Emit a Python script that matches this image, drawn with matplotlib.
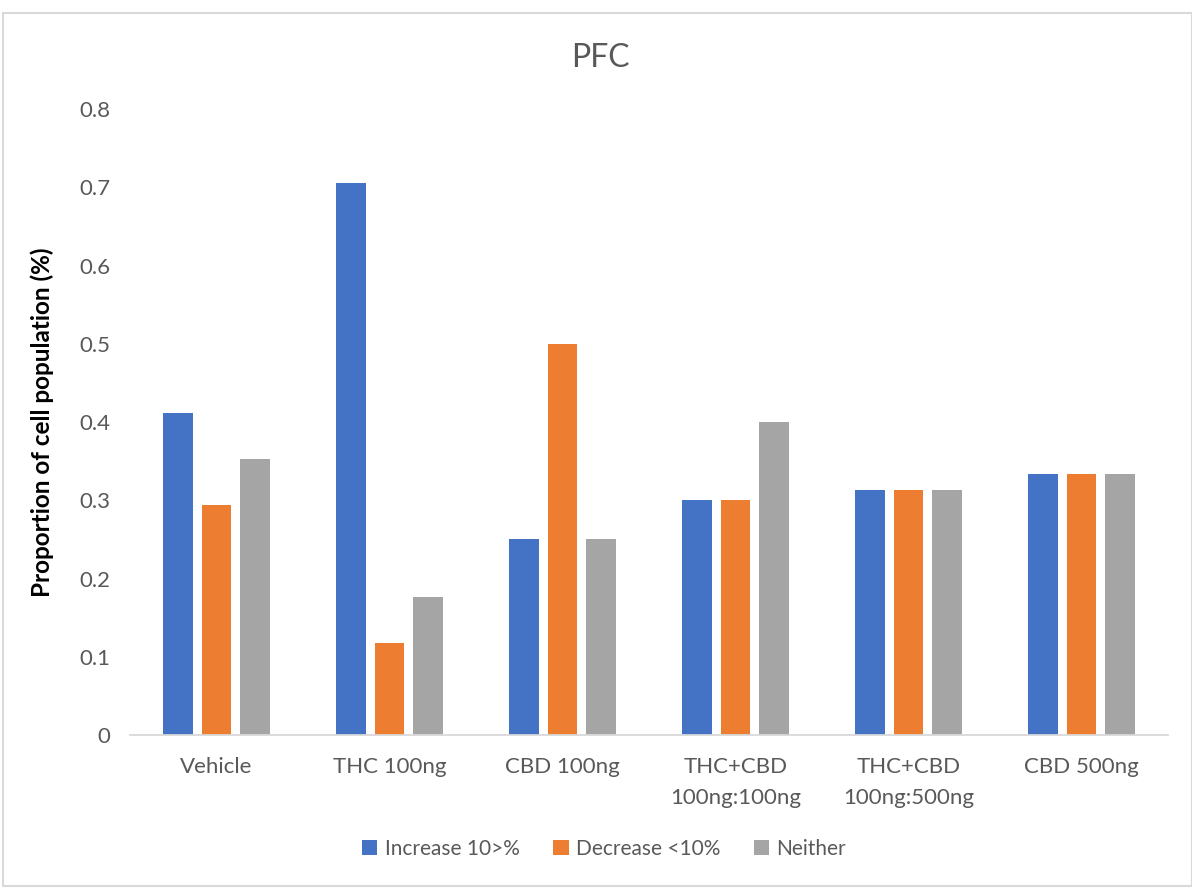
import matplotlib.pyplot as plt
import numpy as np
from matplotlib.patches import Rectangle

plt.rcParams['font.family'] = ['Lato', 'DejaVu Sans']

categories = ["Vehicle", "THC 100ng", "CBD 100ng", "THC+CBD\n100ng:100ng",
              "THC+CBD\n100ng:500ng", "CBD 500ng"]
increase = [0.412, 0.706, 0.25, 0.30, 0.3125, 0.333]
decrease = [0.294, 0.118, 0.50, 0.30, 0.3125, 0.333]
neither = [0.353, 0.176, 0.25, 0.40, 0.3125, 0.333]
series_names = ["Increase 10>%", "Decrease <10%", "Neither"]
colors = ["#4472C4", "#ED7D31", "#A5A5A5"]
yticks = [0, 0.1, 0.2, 0.3, 0.4, 0.5, 0.6, 0.7, 0.8]
ytick_labels = ["0", "0.1", "0.2", "0.3", "0.4", "0.5", "0.6", "0.7", "0.8"]

W, H = 1192, 888
fig = plt.figure(figsize=(W / 100, H / 100), dpi=100)
ax = fig.add_axes([130 / W, 153 / H, 1038 / W, 626 / H])

# chart outline
fig.patches.append(Rectangle((3 / W, 2 / H), 1 - 3 / W, 873 / H, transform=fig.transFigure,
                             fill=False, edgecolor="#D9D9D9", linewidth=1.5))

x = np.arange(len(categories))
bw = 0.173
step = 0.22
for i, (vals, name, c) in enumerate(zip([increase, decrease, neither], series_names, colors)):
    ax.bar(x + (i - 1) * step, vals, width=bw, color=c, label=name)

ax.set_xlim(-0.5, len(categories) - 0.5)
ax.set_ylim(0, 0.8)
ax.set_yticks(yticks)
ax.set_yticklabels(ytick_labels)
ax.set_xticks(x)
ax.set_xticklabels(categories, linespacing=1.7, va="top")
ax.tick_params(axis="both", length=0, labelsize=16, colors="#595959")
ax.tick_params(axis="y", pad=14)
ax.tick_params(axis="x", pad=16)
for s in ["top", "right", "left"]:
    ax.spines[s].set_visible(False)
ax.spines["bottom"].set_color("#D9D9D9")
ax.spines["bottom"].set_linewidth(1.3)

ax.set_ylabel("Proportion of cell population (%)", fontsize=17.5, fontweight="bold",
              color="black", labelpad=18)
fig.text(600 / W, 1 - 58 / H, "PFC", ha="center", va="center", fontsize=23, color="#595959")

leg = ax.legend(loc="center", bbox_to_anchor=(604 / W, 1 - 849 / H),
                bbox_transform=fig.transFigure, ncol=3, frameon=False, fontsize=15,
                handlelength=0.75, handleheight=0.75, handletextpad=0.35, columnspacing=1.6)
for t in leg.get_texts():
    t.set_color("#595959")

fig.savefig("out.png", dpi=100)
